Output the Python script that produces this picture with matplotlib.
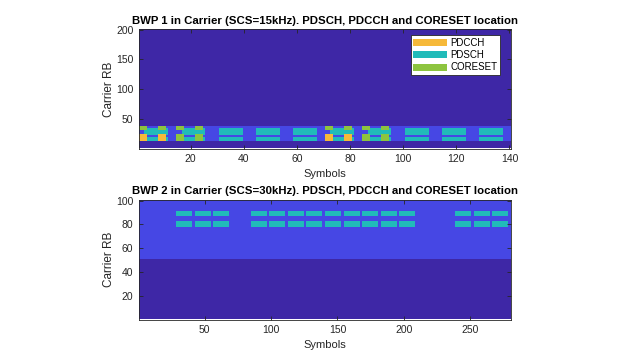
"""
BWP resource grid plots: PDSCH, PDCCH and CORESET location per carrier.
"""

import numpy as np
import matplotlib
matplotlib.use('Agg')
import matplotlib.pyplot as plt
from matplotlib.colors import ListedColormap
from matplotlib.patches import Patch

plt.rcParams['font.family'] = ['Liberation Sans', 'DejaVu Sans']

SYMBOLS_PER_SLOT = 14

# BWP 1 (SCS 15 kHz) -- carrier RBs are 1-based, inclusive ranges
bwp1_carrier_rbs = 200
bwp1_num_slots = 10
bwp1_rbs = (13, 37)
bwp1_pdsch_rbs = [(13, 18), (23, 33)]
bwp1_pdsch_slots = [0, 1, 2, 3, 4, 5, 6, 7, 8, 9]
bwp1_pdsch_symbols = (2, 10)
bwp1_coreset_rbs = [(13, 24), (31, 36)]
bwp1_coreset_slots = [0, 1, 5, 6]
bwp1_coreset_symbols = [0, 1, 2, 7, 8, 9]
bwp1_pdcch_rbs = [(13, 24)]
bwp1_pdcch_slots = [0, 5]

# BWP 2 (SCS 30 kHz)
bwp2_carrier_rbs = 100
bwp2_num_slots = 20
bwp2_rbs = (51, 100)
bwp2_pdsch_rbs = [(78, 82), (87, 90)]
bwp2_pdsch_slots = [2, 3, 4, 6, 7, 8, 9, 10, 11, 12, 13, 14, 17, 18, 19]
bwp2_pdsch_symbols = (0, 11)

# grid codes: 0 carrier, 1 BWP, 2 PDSCH, 3 CORESET, 4 PDCCH
grid_colors = ['#3E27A6', '#4647E4', '#21BBB9', '#8DC43F', '#F6B93A']
legend_names = ['PDCCH', 'PDSCH', 'CORESET']


def _fill(grid, rb_ranges, slots, symbols, code):
    for lo, hi in rb_ranges:
        for s in slots:
            cols = [s * SYMBOLS_PER_SLOT + k for k in symbols]
            grid[lo - 1:hi, cols] = code


def build_grid(n_rb, n_slots, bwp, pdsch_rbs, pdsch_slots, pdsch_sym,
               coreset_rbs=(), coreset_slots=(), coreset_sym=(),
               pdcch_rbs=(), pdcch_slots=()):
    grid = np.zeros((n_rb, n_slots * SYMBOLS_PER_SLOT))
    grid[bwp[0] - 1:bwp[1], :] = 1
    _fill(grid, pdsch_rbs, pdsch_slots, range(pdsch_sym[0], pdsch_sym[1] + 1), 2)
    _fill(grid, coreset_rbs, coreset_slots, coreset_sym, 3)
    _fill(grid, pdcch_rbs, pdcch_slots, coreset_sym, 4)
    return grid


def draw_panel(ax, grid, title, xticks, yticks):
    n_rb, n_sym = grid.shape
    cmap = ListedColormap(grid_colors)
    ax.imshow(grid, cmap=cmap, vmin=-0.5, vmax=4.5, origin='lower',
              aspect='auto', interpolation='nearest',
              extent=(0.5, n_sym + 0.5, 0.5, n_rb + 0.5))
    ax.set_xlim(0.5, n_sym + 0.5)
    ax.set_ylim(0.5, n_rb + 0.5)
    ax.set_xticks(xticks)
    ax.set_yticks(yticks)
    ax.tick_params(direction='in', length=3, width=0.6, labelsize=7.5,
                   colors='#262626', top=True, right=True, pad=4)
    for sp in ax.spines.values():
        sp.set_linewidth(0.6)
        sp.set_color('#262626')
    ax.set_title(title, fontsize=8.2, fontweight='bold', pad=4)
    ax.set_xlabel('Symbols', fontsize=8, color='#262626', labelpad=3.5)
    ax.set_ylabel('Carrier RB', fontsize=8.5, color='#262626', labelpad=1)


def main():
    fig = plt.figure(figsize=(6.4, 3.6), dpi=100)
    ax1 = fig.add_axes([0.217, 0.5875, 0.581, 0.331])
    ax2 = fig.add_axes([0.217, 0.1125, 0.581, 0.332])

    grid1 = build_grid(bwp1_carrier_rbs, bwp1_num_slots, bwp1_rbs,
                       bwp1_pdsch_rbs, bwp1_pdsch_slots, bwp1_pdsch_symbols,
                       bwp1_coreset_rbs, bwp1_coreset_slots, bwp1_coreset_symbols,
                       bwp1_pdcch_rbs, bwp1_pdcch_slots)
    grid2 = build_grid(bwp2_carrier_rbs, bwp2_num_slots, bwp2_rbs,
                       bwp2_pdsch_rbs, bwp2_pdsch_slots, bwp2_pdsch_symbols)

    draw_panel(ax1, grid1,
               'BWP 1 in Carrier (SCS=15kHz). PDSCH, PDCCH and CORESET location',
               [20, 40, 60, 80, 100, 120, 140], [50, 100, 150, 200])
    draw_panel(ax2, grid2,
               'BWP 2 in Carrier (SCS=30kHz). PDSCH, PDCCH and CORESET location',
               [50, 100, 150, 200, 250], [20, 40, 60, 80, 100])

    handles = [Patch(facecolor=grid_colors[4]), Patch(facecolor=grid_colors[2]),
               Patch(facecolor=grid_colors[3])]
    leg = ax1.legend(handles, legend_names, loc='upper right',
                     bbox_to_anchor=(0.972, 0.955), fontsize=7,
                     handlelength=3.5, handleheight=0.75, handletextpad=0.3,
                     labelspacing=0.25, borderpad=0.3, borderaxespad=0,
                     fancybox=False, framealpha=1, edgecolor='#262626')
    leg.get_frame().set_linewidth(0.6)

    fig.savefig('out.png', dpi=100, facecolor='white')
    plt.close(fig)


if __name__ == '__main__':
    main()
